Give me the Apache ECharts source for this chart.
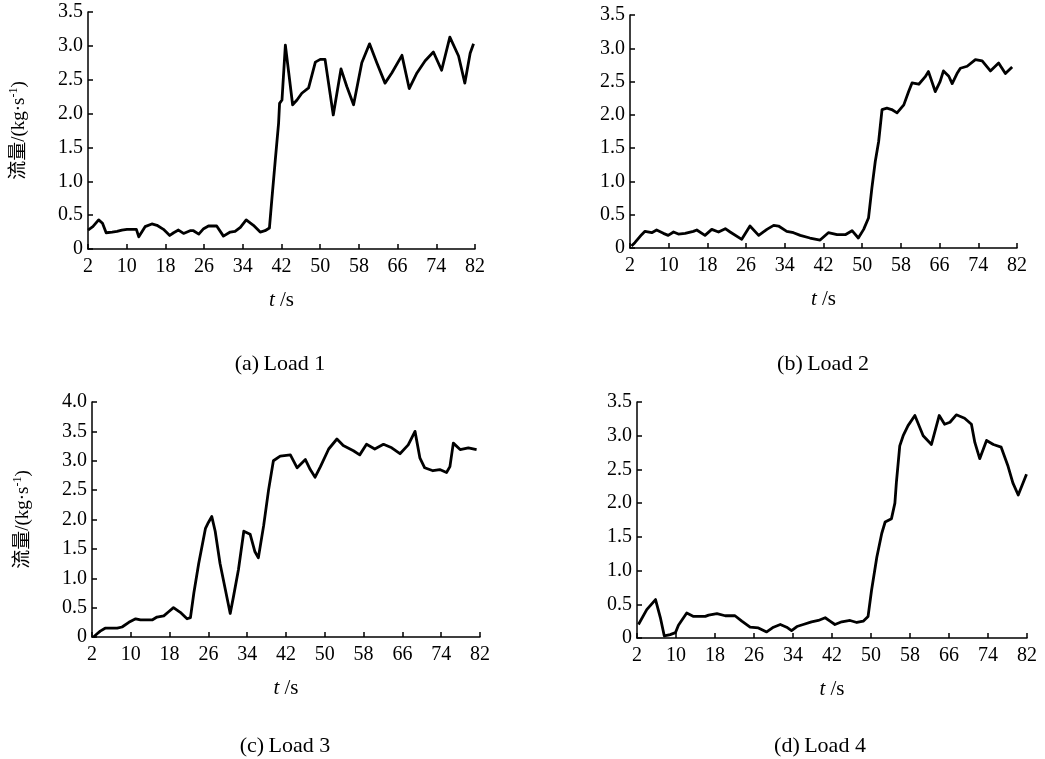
<!DOCTYPE html>
<html>
<head>
<meta charset="utf-8">
<script src="https://cdn.jsdelivr.net/npm/echarts@6/dist/echarts.min.js"></script>
<style>html,body{margin:0;padding:0;background:#fff}#c{width:1045px;height:759px}</style>
</head>
<body>
<div id="c"></div>
<script>
// ---- data ----
var xTicks = [2,10,18,26,34,42,50,58,66,74,82];
var captions = ['(a)\u2009Load 1','(b)\u2009Load 2','(c)\u2009Load 3','(d)\u2009Load 4'];

var tA = [2,3.0,4.2,5.0,5.75,7.0,8.0,9.0,10.05,12.0,12.5,13.8,15.2,16.25,17.6,18.9,19.7,20.7,21.75,23.1,23.8,24.9,25.9,26.9,28.6,30.0,31.4,32.4,33.5,34.7,36.2,37.6,38.6,39.5,40.0,40.7,41.4,41.6,42.1,42.8,43.5,44.3,45.2,46.2,47.6,49.0,50.0,51.0,52.7,53.1,54.3,55.5,56.9,58.6,60.2,61.7,63.4,64.8,66.9,68.4,70.0,71.7,73.4,75.1,76.8,78.6,79.9,81.0,81.7];
var vA = [0.28,0.33,0.43,0.38,0.24,0.25,0.26,0.28,0.29,0.29,0.18,0.33,0.37,0.35,0.29,0.20,0.24,0.28,0.23,0.27,0.27,0.22,0.30,0.34,0.34,0.19,0.25,0.26,0.32,0.43,0.35,0.25,0.27,0.31,0.73,1.30,1.86,2.15,2.20,3.01,2.60,2.13,2.20,2.30,2.38,2.76,2.80,2.80,1.98,2.15,2.66,2.40,2.13,2.75,3.03,2.75,2.45,2.60,2.86,2.37,2.60,2.78,2.91,2.64,3.13,2.85,2.45,2.89,3.03];

var tB = [2.3,3.0,4.4,5.1,6.5,7.5,8.9,9.9,11.0,12.0,13.4,15.1,15.8,17.5,18.9,20.3,21.7,22.7,25.1,26.8,28.6,30.3,31.7,32.7,34.4,35.8,37.2,39.2,41.3,43.0,44.8,46.5,47.9,49.2,50.3,51.3,52.0,52.7,53.4,54.1,55.1,56.1,57.2,58.6,59.6,60.3,61.7,63.0,63.7,65.1,66.1,66.8,67.9,68.6,69.6,70.3,71.7,73.4,74.8,76.5,78.2,79.6,81.0];
var vB = [0.03,0.08,0.20,0.25,0.23,0.27,0.22,0.19,0.24,0.21,0.22,0.25,0.27,0.19,0.28,0.24,0.29,0.24,0.13,0.33,0.19,0.28,0.34,0.33,0.25,0.23,0.19,0.15,0.12,0.23,0.20,0.20,0.26,0.15,0.28,0.45,0.90,1.30,1.60,2.08,2.10,2.08,2.03,2.15,2.35,2.48,2.46,2.57,2.65,2.35,2.50,2.66,2.58,2.47,2.62,2.70,2.73,2.83,2.81,2.66,2.78,2.62,2.72];

var tC = [2.3,3.0,3.7,4.7,7.2,8.2,9.6,11.0,12.0,14.4,15.4,16.8,17.8,18.8,20.2,21.6,22.3,23.0,24.0,25.4,26.0,26.7,27.4,28.4,30.5,31.2,32.2,33.3,34.6,35.6,36.3,37.4,38.4,39.4,40.8,42.9,44.3,46.0,47.0,48.0,49.1,50.8,52.5,53.8,55.9,57.2,58.6,60.3,62.1,63.8,65.5,67.2,68.6,69.6,70.6,72.3,73.7,75.1,75.8,76.5,77.9,79.6,81.3];
var vC = [0.00,0.05,0.10,0.15,0.15,0.17,0.25,0.31,0.29,0.29,0.34,0.36,0.43,0.50,0.42,0.31,0.33,0.75,1.25,1.85,1.95,2.05,1.80,1.25,0.40,0.70,1.15,1.80,1.75,1.45,1.35,1.90,2.50,3.00,3.08,3.10,2.88,3.02,2.85,2.72,2.90,3.20,3.37,3.26,3.17,3.10,3.28,3.20,3.28,3.22,3.12,3.27,3.50,3.05,2.88,2.83,2.85,2.80,2.90,3.30,3.19,3.22,3.19];

var tD = [2.3,4.0,5.8,6.8,7.6,8.8,9.9,10.5,12.2,13.6,16.0,16.7,18.4,20.1,22.1,23.5,25.2,26.9,28.6,30.0,31.4,32.7,33.7,34.8,36.1,37.8,39.2,40.6,41.6,42.6,44.0,45.7,47.1,48.4,49.4,50.1,51.2,52.2,52.9,54.2,54.9,55.2,55.9,56.6,57.6,59.0,60.7,62.4,64.0,65.1,66.2,67.5,69.2,70.6,71.3,72.3,73.7,75.1,76.7,78.1,79.1,80.2,81.9];
var vD = [0.20,0.42,0.57,0.30,0.03,0.05,0.08,0.19,0.37,0.32,0.32,0.34,0.36,0.33,0.33,0.25,0.16,0.15,0.09,0.16,0.20,0.16,0.11,0.17,0.20,0.24,0.26,0.30,0.25,0.20,0.24,0.26,0.23,0.25,0.32,0.70,1.20,1.55,1.72,1.77,2.00,2.30,2.85,3.00,3.15,3.30,3.00,2.87,3.30,3.17,3.20,3.31,3.26,3.17,2.90,2.66,2.93,2.87,2.83,2.55,2.30,2.12,2.43];

// ---- chart ----
var SERIF = '"Liberation Serif","DejaVu Serif","Noto Sans CJK SC",serif';
var grids = [
  {left: 88, top: 12, width: 387, height: 237},
  {left: 630, top: 15, width: 387, height: 233},
  {left: 92, top: 402, width: 388, height: 235},
  {left: 637, top: 402, width: 390, height: 236}
];
var yMax = [3.5, 3.5, 4.0, 3.5];
var ts = [tA, tB, tC, tD];
var vs = [vA, vB, vC, vD];
var capPos = [[280, 364], [823, 364], [285, 746], [820, 746]];

function pairs(t, v) { return t.map(function (x, i) { return [x, v[i]]; }); }

var xAxes = [], yAxes = [], series = [], graphics = [];
for (var i = 0; i < 4; i++) {
  xAxes.push({
    type: 'value', gridIndex: i, min: 2, max: 82,
    axisLine: {show: true, lineStyle: {color: '#000', width: 1.5}},
    axisTick: {show: true, inside: true, length: 5, customValues: xTicks, lineStyle: {color: '#000', width: 1.5}},
    axisLabel: {show: true, customValues: xTicks, color: '#000', fontFamily: SERIF, fontSize: 20, margin: 8},
    splitLine: {show: false},
    name: '{i|t}{n| /s}', nameLocation: 'middle', nameGap: 41,
    nameTextStyle: {rich: {
      i: {fontStyle: 'italic', fontFamily: SERIF, fontSize: 21, color: '#000'},
      n: {fontFamily: SERIF, fontSize: 21, color: '#000'}
    }}
  });
  var ya = {
    type: 'value', gridIndex: i, min: 0, max: yMax[i], interval: 0.5,
    axisLine: {show: true, lineStyle: {color: '#000', width: 1.5}},
    axisTick: {show: true, inside: true, length: 5, lineStyle: {color: '#000', width: 1.5}},
    axisLabel: {color: '#000', fontFamily: SERIF, fontSize: 20, margin: 5,
      formatter: function (v) { return v === 0 ? '0' : v.toFixed(1); }},
    splitLine: {show: false}
  };
  if (i === 0 || i === 2) {
    ya.name = '{a|流量/(kg·s}{s|-1}{a|)}';
    ya.nameLocation = 'middle';
    ya.nameGap = 58;
    ya.nameTextStyle = {rich: {
      a: {fontFamily: SERIF, fontSize: 19, color: '#000', lineHeight: 22},
      s: {fontFamily: SERIF, fontSize: 12, color: '#000', verticalAlign: 'top', lineHeight: 22}
    }};
  }
  yAxes.push(ya);
  series.push({
    type: 'line', xAxisIndex: i, yAxisIndex: i, data: pairs(ts[i], vs[i]),
    showSymbol: false, symbol: 'none', silent: true, animation: false,
    lineStyle: {color: '#000', width: 2.8, join: 'round'}
  });
  graphics.push({
    type: 'text', x: capPos[i][0], y: capPos[i][1],
    style: {text: captions[i], fill: '#000', font: '22px ' + SERIF, textAlign: 'center', textVerticalAlign: 'middle'}
  });
}

var chart = echarts.init(document.getElementById('c'), null, {renderer: 'canvas'});
chart.setOption({
  backgroundColor: '#fff',
  animation: false,
  grid: grids,
  xAxis: xAxes,
  yAxis: yAxes,
  series: series,
  graphic: graphics
});
</script>
</body>
</html>
